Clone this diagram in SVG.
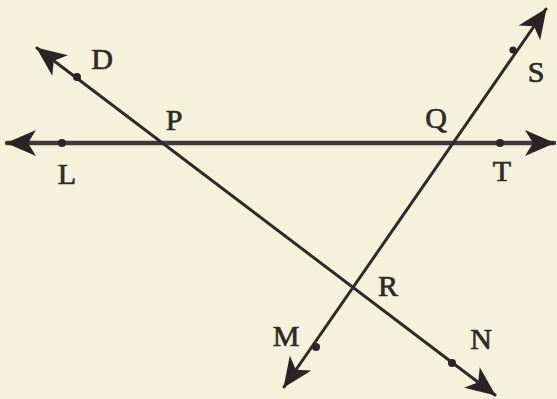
<svg xmlns="http://www.w3.org/2000/svg" width="557" height="399" viewBox="0 0 557 399">
<style>
.ln{stroke:#2e2a2c;stroke-width:3;fill:none;stroke-linecap:round}
.hl{stroke:#45373f;stroke-width:4.5}
.dot{fill:#2a2426}
.lb{font-family:"Liberation Serif","DejaVu Serif",serif;font-size:30px;fill:#2e2a28;stroke:#2e2a28;stroke-width:0.7;text-anchor:middle}
</style>
<defs>
<marker id="ah" markerUnits="userSpaceOnUse" viewBox="0 0 30 26" refX="29" refY="13" markerWidth="30" markerHeight="26" orient="auto-start-reverse">
<path d="M0,0 L30,13 L0,26 L8,13 Z" fill="#2a2426"/>
</marker>
</defs>
<rect width="557" height="399" fill="#f6f1da"/>
<g id="connectors">
<line id="LT" class="ln hl" x1="7" y1="143" x2="554" y2="143" marker-start="url(#ah)" marker-end="url(#ah)"/>
<line id="DN" class="ln" x1="37" y1="48" x2="495" y2="395" marker-start="url(#ah)" marker-end="url(#ah)"/>
<line id="MS" class="ln" x1="284" y1="387" x2="546" y2="9" marker-start="url(#ah)" marker-end="url(#ah)"/>
</g>
<g id="D"><circle class="dot" cx="77" cy="77" r="4"/><text class="lb" x="102" y="69">D</text></g>
<g id="L"><circle class="dot" cx="62" cy="143" r="4"/><text class="lb" x="67" y="184">L</text></g>
<g id="P"><text class="lb" x="174" y="130">P</text></g>
<g id="Q"><text class="lb" x="436" y="128">Q</text></g>
<g id="S"><circle class="dot" cx="513" cy="50" r="3.6"/><text class="lb" x="536" y="82">S</text></g>
<g id="T"><circle class="dot" cx="500" cy="143" r="4"/><text class="lb" x="502" y="181">T</text></g>
<g id="R"><text class="lb" x="388" y="296">R</text></g>
<g id="M"><circle class="dot" cx="316" cy="347" r="4"/><text class="lb" x="286" y="346">M</text></g>
<g id="N"><circle class="dot" cx="452" cy="363" r="4"/><text class="lb" x="481" y="349">N</text></g>
</svg>
